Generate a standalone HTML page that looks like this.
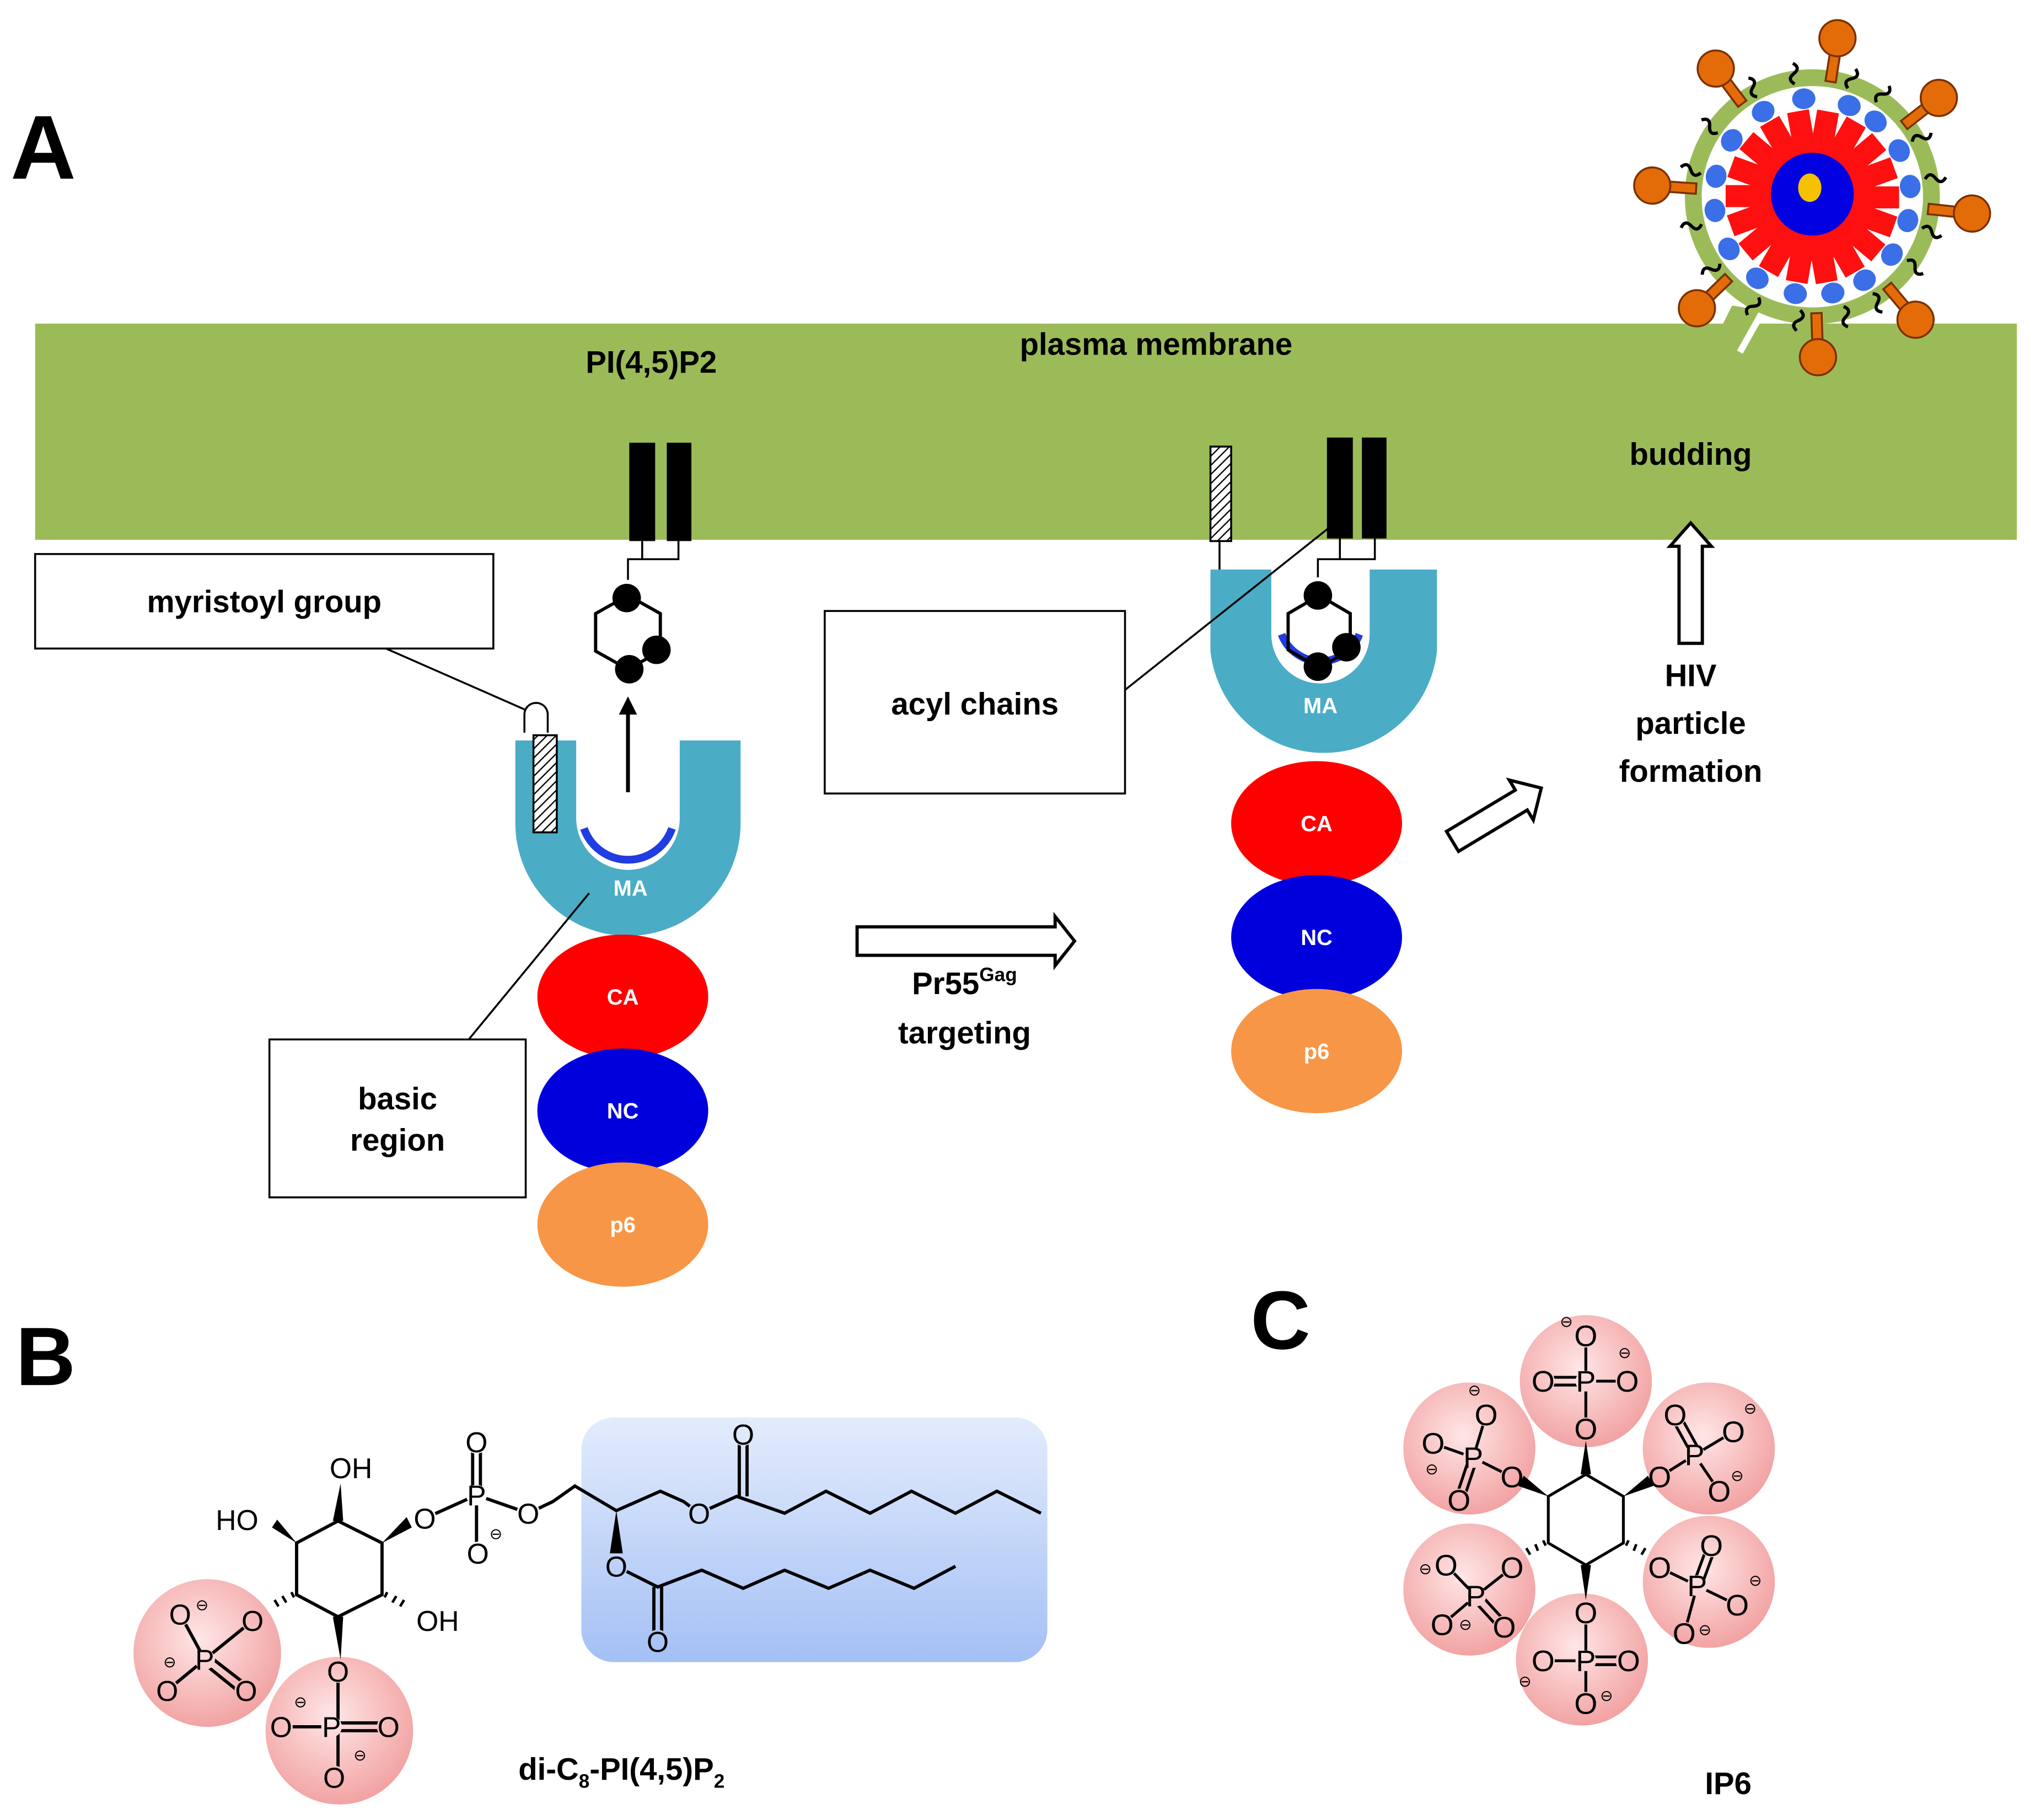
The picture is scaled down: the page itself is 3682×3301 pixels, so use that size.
<!DOCTYPE html>
<html><head><meta charset="utf-8"><style>
html,body{margin:0;padding:0;background:#fff;}
svg{display:block;}
text{font-family:"Liberation Sans",sans-serif;}
.b{font-weight:bold;}
</style></head><body>
<svg xmlns="http://www.w3.org/2000/svg" width="3682" height="3301" viewBox="0 0 1568 1406">
<defs>
<pattern id="hat" width="5" height="5" patternUnits="userSpaceOnUse" patternTransform="rotate(45)">
<rect width="5" height="5" fill="#fff"/><line x1="0" y1="0" x2="0" y2="5" stroke="#000" stroke-width="2"/>
</pattern>
<radialGradient id="pink" cx="0.45" cy="0.4" r="0.6"><stop offset="0" stop-color="#ffe6e6"/><stop offset="1" stop-color="#f2a3a3"/></radialGradient>
<linearGradient id="blu" x1="0" y1="0" x2="0" y2="1"><stop offset="0" stop-color="#e3ecfc"/><stop offset="1" stop-color="#a4c0f5"/></linearGradient>
<mask id="mB" maskUnits="userSpaceOnUse" x="0" y="1000" width="900" height="406">
<rect x="0" y="1000" width="900" height="406" fill="#fff"/>
<g fill="#000">
<circle cx="328" cy="1173" r="9"/><circle cx="368" cy="1155" r="8"/><circle cx="368" cy="1114" r="9"/><circle cx="369" cy="1200" r="9"/>
<circle cx="408" cy="1169" r="9"/><circle cx="540" cy="1169" r="9"/><circle cx="574" cy="1108" r="9"/><circle cx="476" cy="1210" r="9"/><circle cx="508" cy="1268" r="9"/>
<circle cx="335" cy="1252" r="9"/>
<circle cx="139" cy="1247" r="9"/><circle cx="195" cy="1252" r="9"/><circle cx="158" cy="1282" r="8"/><circle cx="129" cy="1306" r="9"/><circle cx="190" cy="1306" r="9"/>
<circle cx="261" cy="1291" r="9"/><circle cx="217" cy="1334" r="9"/><circle cx="256" cy="1334" r="8"/><circle cx="300" cy="1334" r="9"/><circle cx="258" cy="1373" r="9"/>
</g></mask>
<mask id="mC" maskUnits="userSpaceOnUse" x="1000" y="980" width="450" height="360">
<rect x="1000" y="980" width="450" height="360" fill="#fff"/>
<g fill="#000">
<circle cx="1225" cy="1032" r="9"/><circle cx="1192" cy="1067" r="9"/><circle cx="1225" cy="1067" r="8"/><circle cx="1257" cy="1067" r="9"/><circle cx="1225" cy="1104" r="9"/>
<circle cx="1294" cy="1093" r="9"/><circle cx="1339" cy="1106" r="9"/><circle cx="1309" cy="1124" r="8"/><circle cx="1328" cy="1152" r="9"/><circle cx="1282" cy="1141" r="9"/>
<circle cx="1148" cy="1093" r="9"/><circle cx="1107" cy="1115" r="9"/><circle cx="1138" cy="1126" r="8"/><circle cx="1127" cy="1159" r="9"/><circle cx="1168" cy="1141" r="9"/>
<circle cx="1117" cy="1209" r="9"/><circle cx="1168" cy="1211" r="9"/><circle cx="1140" cy="1233" r="8"/><circle cx="1114" cy="1255" r="9"/><circle cx="1162" cy="1257" r="9"/>
<circle cx="1322" cy="1194" r="9"/><circle cx="1282" cy="1211" r="9"/><circle cx="1311" cy="1225" r="8"/><circle cx="1342" cy="1240" r="9"/><circle cx="1301" cy="1262" r="9"/>
<circle cx="1225" cy="1246" r="9"/><circle cx="1192" cy="1283" r="9"/><circle cx="1225" cy="1283" r="8"/><circle cx="1257" cy="1283" r="9"/><circle cx="1225" cy="1316" r="9"/>
</g></mask>
</defs>

<text x="8" y="138" class="b" font-size="70">A</text>
<text x="12" y="1070" class="b" font-size="64">B</text>
<text x="966" y="1042" class="b" font-size="64">C</text>

<rect x="27" y="250" width="1531" height="167" fill="#9bbb59"/>
<text x="893" y="274" class="b" font-size="24" text-anchor="middle">plasma membrane</text>
<text x="503" y="288" class="b" font-size="24" text-anchor="middle">PI(4,5)P2</text>
<text x="1306" y="359" class="b" font-size="24" text-anchor="middle">budding</text>

<!-- virus -->
<g>
<path d="M1338 236 L1322 268 L1345 268 L1362 240 Z" fill="#9bbb59"/>
<line x1="1362" y1="240" x2="1344" y2="272" stroke="#fff" stroke-width="5"/>
<circle cx="1400" cy="152" r="92" fill="none" stroke="#9bbb59" stroke-width="13"/>
<g fill="#e36c09" stroke="#7a3000" stroke-width="1.5">
<g transform="rotate(-81 1400 152)"><rect x="1490" y="148" width="22" height="8"/><circle cx="1524" cy="152" r="14"/></g>
<g transform="rotate(-38 1400 152)"><rect x="1490" y="148" width="22" height="8"/><circle cx="1524" cy="152" r="14"/></g>
<g transform="rotate(6 1400 152)"><rect x="1490" y="148" width="22" height="8"/><circle cx="1524" cy="152" r="14"/></g>
<g transform="rotate(50 1400 152)"><rect x="1490" y="148" width="22" height="8"/><circle cx="1524" cy="152" r="14"/></g>
<g transform="rotate(88 1400 152)"><rect x="1490" y="148" width="22" height="8"/><circle cx="1524" cy="152" r="14"/></g>
<g transform="rotate(136 1400 152)"><rect x="1490" y="148" width="22" height="8"/><circle cx="1524" cy="152" r="14"/></g>
<g transform="rotate(184 1400 152)"><rect x="1490" y="148" width="22" height="8"/><circle cx="1524" cy="152" r="14"/></g>
<g transform="rotate(233 1400 152)"><rect x="1490" y="148" width="22" height="8"/><circle cx="1524" cy="152" r="14"/></g>
</g>
<g fill="none" stroke="#000" stroke-width="2.5">
<path d="M1488 146 q4 -6 8 0 t8 0" transform="rotate(-95 1400 152)"/>
<path d="M1488 146 q4 -6 8 0 t8 0" transform="rotate(-68 1400 152)"/>
<path d="M1488 146 q4 -6 8 0 t8 0" transform="rotate(-52 1400 152)"/>
<path d="M1488 146 q4 -6 8 0 t8 0" transform="rotate(-25 1400 152)"/>
<path d="M1488 146 q4 -6 8 0 t8 0" transform="rotate(-5 1400 152)"/>
<path d="M1488 146 q4 -6 8 0 t8 0" transform="rotate(20 1400 152)"/>
<path d="M1488 146 q4 -6 8 0 t8 0" transform="rotate(38 1400 152)"/>
<path d="M1488 146 q4 -6 8 0 t8 0" transform="rotate(62 1400 152)"/>
<path d="M1488 146 q4 -6 8 0 t8 0" transform="rotate(78 1400 152)"/>
<path d="M1488 146 q4 -6 8 0 t8 0" transform="rotate(100 1400 152)"/>
<path d="M1488 146 q4 -6 8 0 t8 0" transform="rotate(122 1400 152)"/>
<path d="M1488 146 q4 -6 8 0 t8 0" transform="rotate(148 1400 152)"/>
<path d="M1488 146 q4 -6 8 0 t8 0" transform="rotate(170 1400 152)"/>
<path d="M1488 146 q4 -6 8 0 t8 0" transform="rotate(196 1400 152)"/>
<path d="M1488 146 q4 -6 8 0 t8 0" transform="rotate(218 1400 152)"/>
<path d="M1488 146 q4 -6 8 0 t8 0" transform="rotate(245 1400 152)"/>
</g>
<g fill="#3a6fe8">
<ellipse cx="1476" cy="152" rx="8" ry="9" transform="rotate(-95 1400 152)"/>
<ellipse cx="1476" cy="152" rx="8" ry="9" transform="rotate(-68 1400 152)"/>
<ellipse cx="1476" cy="152" rx="8" ry="9" transform="rotate(-50 1400 152)"/>
<ellipse cx="1476" cy="152" rx="8" ry="9" transform="rotate(-28 1400 152)"/>
<ellipse cx="1476" cy="152" rx="8" ry="9" transform="rotate(-6 1400 152)"/>
<ellipse cx="1476" cy="152" rx="8" ry="9" transform="rotate(14 1400 152)"/>
<ellipse cx="1476" cy="152" rx="8" ry="9" transform="rotate(36 1400 152)"/>
<ellipse cx="1476" cy="152" rx="8" ry="9" transform="rotate(58 1400 152)"/>
<ellipse cx="1476" cy="152" rx="8" ry="9" transform="rotate(78 1400 152)"/>
<ellipse cx="1476" cy="152" rx="8" ry="9" transform="rotate(100 1400 152)"/>
<ellipse cx="1476" cy="152" rx="8" ry="9" transform="rotate(124 1400 152)"/>
<ellipse cx="1476" cy="152" rx="8" ry="9" transform="rotate(148 1400 152)"/>
<ellipse cx="1476" cy="152" rx="8" ry="9" transform="rotate(172 1400 152)"/>
<ellipse cx="1476" cy="152" rx="8" ry="9" transform="rotate(192 1400 152)"/>
<ellipse cx="1476" cy="152" rx="8" ry="9" transform="rotate(215 1400 152)"/>
<ellipse cx="1476" cy="152" rx="8" ry="9" transform="rotate(240 1400 152)"/>
</g>
<g fill="#ff1010">
<rect x="1425" y="144" width="42" height="17" transform="rotate(0 1400 152)"/>
<rect x="1425" y="144" width="42" height="17" transform="rotate(20 1400 152)"/>
<rect x="1425" y="144" width="42" height="17" transform="rotate(40 1400 152)"/>
<rect x="1425" y="144" width="42" height="17" transform="rotate(60 1400 152)"/>
<rect x="1425" y="144" width="42" height="17" transform="rotate(80 1400 152)"/>
<rect x="1425" y="144" width="42" height="17" transform="rotate(100 1400 152)"/>
<rect x="1425" y="144" width="42" height="17" transform="rotate(120 1400 152)"/>
<rect x="1425" y="144" width="42" height="17" transform="rotate(140 1400 152)"/>
<rect x="1425" y="144" width="42" height="17" transform="rotate(160 1400 152)"/>
<rect x="1425" y="144" width="42" height="17" transform="rotate(180 1400 152)"/>
<rect x="1425" y="144" width="42" height="17" transform="rotate(200 1400 152)"/>
<rect x="1425" y="144" width="42" height="17" transform="rotate(220 1400 152)"/>
<rect x="1425" y="144" width="42" height="17" transform="rotate(240 1400 152)"/>
<rect x="1425" y="144" width="42" height="17" transform="rotate(260 1400 152)"/>
<rect x="1425" y="144" width="42" height="17" transform="rotate(280 1400 152)"/>
<rect x="1425" y="144" width="42" height="17" transform="rotate(300 1400 152)"/>
<rect x="1425" y="144" width="42" height="17" transform="rotate(320 1400 152)"/>
<rect x="1425" y="144" width="42" height="17" transform="rotate(340 1400 152)"/>
</g>
<circle cx="1400" cy="150" r="32" fill="#0000e0"/>
<ellipse cx="1398" cy="145" rx="9" ry="11" fill="#f5c000"/>
</g>

<!-- Left Gag -->
<rect x="486" y="342" width="20" height="76" fill="#000"/>
<rect x="515" y="342" width="19" height="76" fill="#000"/>
<path d="M496 418 V432 H524 V418 M485 448 V432 H496" fill="none" stroke="#000" stroke-width="1.5"/>
<polygon points="485,460 510,474 510,503 485,517 460,503 460,474" fill="none" stroke="#000" stroke-width="2.5"/>
<circle cx="484" cy="462" r="11" fill="#000"/><circle cx="507" cy="502" r="11" fill="#000"/><circle cx="486" cy="517" r="11" fill="#000"/>
<line x1="485" y1="612" x2="485" y2="548" stroke="#000" stroke-width="3"/>
<polygon points="478,552 485,538 492,552" fill="#000"/>
<path d="M398 572 H445 V632 A40 40 0 0 0 525 632 V572 H572 V636 A87 87 0 0 1 398 636 Z" fill="#4bacc6"/>
<path d="M451 640 A36 36 0 0 0 519 640" fill="none" stroke="#1f3de0" stroke-width="6"/>
<text x="487" y="692" class="b" font-size="17" fill="#fff" text-anchor="middle">MA</text>
<rect x="412" y="568" width="18" height="75" fill="url(#hat)" stroke="#000" stroke-width="1.5"/>
<path d="M405 566 V552 A9 9 0 0 1 423 552 V566" fill="none" stroke="#000" stroke-width="1.5"/>
<ellipse cx="481" cy="770" rx="66" ry="48" fill="#ff0000"/>
<ellipse cx="481" cy="858" rx="66" ry="48" fill="#0000dd"/>
<ellipse cx="481" cy="946" rx="66" ry="48" fill="#f79646"/>
<text x="481" y="776" class="b" font-size="17" fill="#fff" text-anchor="middle">CA</text>
<text x="481" y="864" class="b" font-size="17" fill="#fff" text-anchor="middle">NC</text>
<text x="481" y="952" class="b" font-size="17" fill="#fff" text-anchor="middle">p6</text>

<rect x="27" y="428" width="354" height="73" fill="#fff" stroke="#000" stroke-width="1.5"/>
<text x="204" y="473" class="b" font-size="24" text-anchor="middle">myristoyl group</text>
<line x1="298" y1="501" x2="405" y2="548" stroke="#000" stroke-width="1.5"/>
<rect x="208" y="803" width="198" height="122" fill="#fff" stroke="#000" stroke-width="1.5"/>
<text x="307" y="857" class="b" font-size="24" text-anchor="middle">basic</text>
<text x="307" y="889" class="b" font-size="24" text-anchor="middle">region</text>
<line x1="362" y1="803" x2="455" y2="690" stroke="#000" stroke-width="1.5"/>

<polygon points="662,716 815,716 815,708 830,727 815,746 815,738 662,738" fill="#fff" stroke="#000" stroke-width="2.5"/>
<text x="745" y="768" class="b" font-size="24" text-anchor="middle">Pr55<tspan font-size="15" dy="-10">Gag</tspan></text>
<text x="745" y="806" class="b" font-size="24" text-anchor="middle">targeting</text>

<!-- right Gag -->
<rect x="1025" y="338" width="20" height="78" fill="#000"/>
<rect x="1052" y="338" width="19" height="78" fill="#000"/>
<rect x="935" y="345" width="16" height="73" fill="url(#hat)" stroke="#000" stroke-width="1.5"/>
<line x1="942" y1="418" x2="942" y2="440" stroke="#000" stroke-width="1.5"/>
<path d="M935 440 H982 V490 A38 38 0 0 0 1058 490 V440 H1110 V503 A88 88 0 0 1 935 503 Z" fill="#4bacc6"/>
<path d="M990 490 A32 32 0 0 0 1050 490" fill="none" stroke="#1f3de0" stroke-width="6"/>
<text x="1020" y="551" class="b" font-size="17" fill="#fff" text-anchor="middle">MA</text>
<path d="M1035 416 V432 H1062 V416 M1018 446 V432 H1035" fill="none" stroke="#000" stroke-width="1.5"/>
<polygon points="1019,460 1043,474 1043,502 1019,516 995,502 995,474" fill="none" stroke="#000" stroke-width="2.5"/>
<circle cx="1018" cy="460" r="11" fill="#000"/><circle cx="1040" cy="500" r="11" fill="#000"/><circle cx="1018" cy="515" r="11" fill="#000"/>
<ellipse cx="1017" cy="636" rx="66" ry="48" fill="#ff0000"/>
<ellipse cx="1017" cy="724" rx="66" ry="48" fill="#0000dd"/>
<ellipse cx="1017" cy="812" rx="66" ry="48" fill="#f79646"/>
<text x="1017" y="642" class="b" font-size="17" fill="#fff" text-anchor="middle">CA</text>
<text x="1017" y="730" class="b" font-size="17" fill="#fff" text-anchor="middle">NC</text>
<text x="1017" y="818" class="b" font-size="17" fill="#fff" text-anchor="middle">p6</text>

<rect x="637" y="472" width="232" height="141" fill="#fff" stroke="#000" stroke-width="1.5"/>
<text x="753" y="552" class="b" font-size="24" text-anchor="middle">acyl chains</text>
<line x1="869" y1="533" x2="1030" y2="405" stroke="#000" stroke-width="1.5"/>

<polygon points="0,-9 62,-9 62,-18 80,0 62,18 62,9 0,9" fill="#fff" stroke="#000" stroke-width="2.5" transform="translate(1122,650) rotate(-31)"/>
<polygon points="1297,497 1297,422 1290,422 1306,404 1322,422 1315,422 1315,497" fill="#fff" stroke="#000" stroke-width="2.5"/>
<text x="1306" y="530" class="b" font-size="24" text-anchor="middle">HIV</text>
<text x="1306" y="567" class="b" font-size="24" text-anchor="middle">particle</text>
<text x="1306" y="604" class="b" font-size="24" text-anchor="middle">formation</text>

<!-- B structure -->
<rect x="449" y="1095" width="360" height="189" rx="25" fill="url(#blu)"/>
<circle cx="160" cy="1277" r="57" fill="url(#pink)"/>
<circle cx="262" cy="1337" r="57" fill="url(#pink)"/>
<g stroke="#000" stroke-width="2.5" fill="none" mask="url(#mB)">
<polygon points="261,1175 295,1192 295,1232 261,1249 229,1232 229,1192"/>
<path d="M328 1173 L368 1155 L408 1169 M368 1155 V1200 M365 1114 V1155 M371 1114 V1155"/>
<path d="M408 1169 L427 1160 L444 1148 L476 1167 L510 1152 L528 1160 L540 1169 L569 1156 L606 1169 L638 1152 L672 1169 L704 1152 L738 1169 L770 1152 L804 1169"/>
<path d="M571 1156 V1108 M577 1156 V1108"/>
<path d="M476 1210 L508 1226 L542 1213 L574 1227 L606 1213 L640 1227 L672 1213 L706 1227 L738 1210"/>
<path d="M505 1226 V1268 M511 1226 V1268"/>
<path d="M195 1252 L158 1282 L139 1247 M158 1282 L129 1306 M156 1284 L187 1309 M161 1279 L192 1303"/>
<path d="M261 1291 V1373 M217 1334 H256 M256 1331 H300 M256 1337 H300"/>
</g>
<polygon points="257,1175 265,1175 263,1146" fill="#000"/>
<polygon points="229,1192 210,1180 214,1174" fill="#000"/>
<polygon points="295,1192 318,1180 314,1172" fill="#000"/>
<polygon points="476,1167 471,1200 481,1200" fill="#000"/>
<polygon points="257,1249 265,1249 263,1282" fill="#000"/>
<path d="M227 1234 L225 1230 M221 1238 L218 1233 M215 1241 L212 1236 M297 1234 L299 1230 M303 1238 L306 1233 M309 1241 L312 1236" stroke="#000" stroke-width="2"/>
<g font-size="22" fill="#000" text-anchor="middle">
<text x="271" y="1142">OH</text>
<text x="183" y="1182">HO</text>
<text x="328" y="1181">O</text>
<text x="368" y="1163">P</text>
<text x="368" y="1122">O</text>
<text x="369" y="1208">O</text>
<text x="408" y="1177">O</text>
<text x="540" y="1177">O</text>
<text x="574" y="1116">O</text>
<text x="476" y="1218">O</text>
<text x="508" y="1276">O</text>
<text x="338" y="1260">OH</text>
<text x="139" y="1255">O</text>
<text x="195" y="1260">O</text>
<text x="158" y="1290">P</text>
<text x="129" y="1314">O</text>
<text x="190" y="1314">O</text>
<text x="261" y="1299">O</text>
<text x="217" y="1342">O</text>
<text x="256" y="1342">P</text>
<text x="300" y="1342">O</text>
<text x="258" y="1381">O</text>
</g>
<g font-size="12" text-anchor="middle"><text x="383" y="1189">⊖</text><text x="156" y="1244">⊖</text><text x="131" y="1288">⊖</text><text x="232" y="1319">⊖</text><text x="278" y="1360">⊖</text></g>
<text x="480" y="1375" class="b" font-size="24" text-anchor="middle">di-C<tspan font-size="15" dy="6">8</tspan><tspan dy="-6">-PI(4,5)P</tspan><tspan font-size="15" dy="6">2</tspan></text>

<!-- C structure -->
<g fill="url(#pink)">
<circle cx="1225" cy="1067" r="51"/><circle cx="1320" cy="1119" r="51"/><circle cx="1320" cy="1222" r="51"/>
<circle cx="1222" cy="1282" r="51"/><circle cx="1135" cy="1228" r="51"/><circle cx="1135" cy="1119" r="51"/>
</g>
<g stroke="#000" stroke-width="2.2" fill="none" mask="url(#mC)">
<polygon points="1225,1139 1254,1156 1254,1192 1225,1209 1196,1192 1196,1156"/>
<path d="M1225 1032 V1104 M1192 1064 H1225 M1192 1070 H1225 M1225 1067 H1257"/>
<path d="M1282 1141 L1309 1124 L1339 1106 M1309 1124 L1328 1152 M1291 1095 L1306 1122 M1297 1092 L1312 1119"/>
<path d="M1168 1141 L1138 1126 L1107 1115 M1138 1126 L1148 1093 M1135 1126 L1124 1159 M1141 1127 L1130 1160"/>
<path d="M1168 1211 L1140 1233 L1117 1209 M1140 1233 L1114 1255 M1138 1236 L1159 1259 M1143 1231 L1164 1254"/>
<path d="M1282 1211 L1311 1225 L1342 1240 M1311 1225 L1301 1262 M1319 1194 L1308 1224 M1325 1196 L1314 1226"/>
<path d="M1225 1246 V1316 M1192 1283 H1225 M1225 1280 H1257 M1225 1286 H1257"/>
</g>
<polygon points="1221,1139 1229,1139 1225,1113" fill="#000"/>
<polygon points="1254,1156 1273,1140 1277,1148" fill="#000"/>
<polygon points="1196,1156 1177,1140 1173,1148" fill="#000"/>
<polygon points="1221,1209 1229,1209 1225,1236" fill="#000"/>
<path d="M1194 1194 L1192 1190 M1188 1198 L1186 1193 M1182 1201 L1179 1196 M1256 1194 L1258 1190 M1262 1198 L1264 1193 M1268 1201 L1271 1196" stroke="#000" stroke-width="2"/>
<g font-size="23" text-anchor="middle">
<text x="1225" y="1040">O</text><text x="1192" y="1075">O</text><text x="1225" y="1075">P</text><text x="1257" y="1075">O</text><text x="1225" y="1112">O</text>
<text x="1294" y="1101">O</text><text x="1339" y="1114">O</text><text x="1309" y="1132">P</text><text x="1328" y="1160">O</text><text x="1282" y="1149">O</text>
<text x="1148" y="1101">O</text><text x="1107" y="1123">O</text><text x="1138" y="1134">P</text><text x="1127" y="1167">O</text><text x="1168" y="1149">O</text>
<text x="1117" y="1217">O</text><text x="1168" y="1219">O</text><text x="1140" y="1241">P</text><text x="1114" y="1263">O</text><text x="1162" y="1265">O</text>
<text x="1322" y="1202">O</text><text x="1282" y="1219">O</text><text x="1311" y="1233">P</text><text x="1342" y="1248">O</text><text x="1301" y="1270">O</text>
<text x="1225" y="1254">O</text><text x="1192" y="1291">O</text><text x="1225" y="1291">P</text><text x="1258" y="1291">O</text><text x="1225" y="1324">O</text>
</g>
<g font-size="12" text-anchor="middle"><text x="1210" y="1025">⊖</text><text x="1255" y="1049">⊖</text><text x="1352" y="1092">⊖</text><text x="1342" y="1144">⊖</text><text x="1139" y="1078">⊖</text><text x="1106" y="1139">⊖</text><text x="1101" y="1216">⊖</text><text x="1132" y="1259">⊖</text><text x="1356" y="1225">⊖</text><text x="1317" y="1263">⊖</text><text x="1178" y="1303">⊖</text><text x="1241" y="1314">⊖</text></g>
<text x="1335" y="1386" class="b" font-size="24" text-anchor="middle">IP6</text>
</svg>
</body></html>
